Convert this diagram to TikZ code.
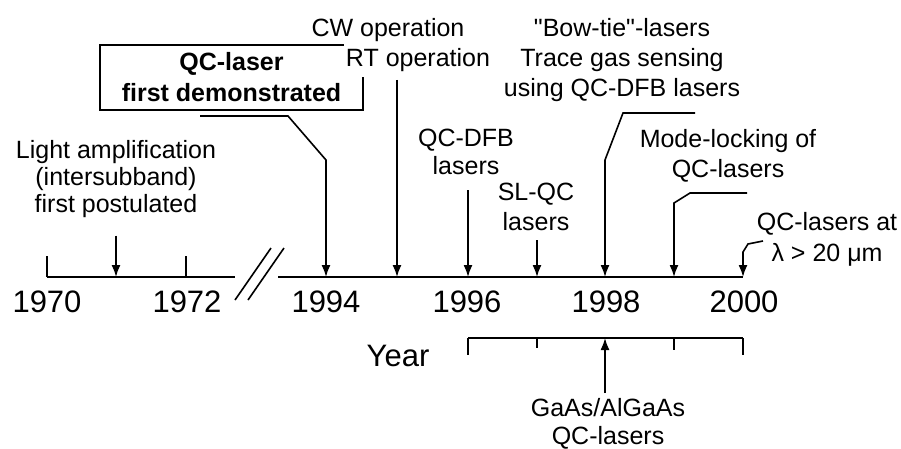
\documentclass[tikz,border=0pt]{standalone}
\usepackage{fontspec}
\setmainfont{Liberation Sans}[Ligatures=TeXOff]
\usetikzlibrary{arrows.meta}
\begin{document}
\begin{tikzpicture}[x=1pt,y=-1pt,
  lab/.style={font=\fontsize{25}{30}\selectfont, align=center, inner sep=0pt},
  yr/.style={font=\fontsize{31}{36}\selectfont, inner sep=0pt, anchor=base},
  axis/.style={line width=2pt},
  arr/.style={line width=1.6pt, -{Latex[length=12pt,width=9pt]}},
  lead/.style={line width=1.6pt}]
\useasboundingbox[fill=white] (0,0) rectangle (901,448);

% main axis points
\coordinate (a1970) at (47,277);
\coordinate (a1971) at (116,277);
\coordinate (a1972) at (186,277);
\coordinate (aL) at (235,277);
\coordinate (aR) at (278,277);
\coordinate (a1994) at (326,277);
\coordinate (a1995) at (397,277);
\coordinate (a1996) at (468,277);
\coordinate (a1997) at (537,277);
\coordinate (a1998) at (605,277);
\coordinate (a1999) at (674,277);
\coordinate (a2000) at (743,277);

\draw[axis] (a1970) -- (aL);
\draw[axis] (aR) -- (a2000);
\draw[axis] (a1970) -- ++(0,-21);
\draw[axis] (a1972) -- ++(0,-21);

% break marks
\coordinate (k1a) at (235,300); \coordinate (k1b) at (271,248);
\coordinate (k2a) at (248,300); \coordinate (k2b) at (284,248);
\draw[lead] (k1a) -- (k1b);
\draw[lead] (k2a) -- (k2b);

% year numbers
\node[yr] (n1970) at (47,312) {1970};
\node[yr] (n1972) at (187,312) {1972};
\node[yr] (n1994) at (326,312) {1994};
\node[yr] (n1996) at (467,312) {1996};
\node[yr] (n1998) at (606,312) {1998};
\node[yr] (n2000) at (744,312) {2000};
\node[yr] (year) at (398,366.7) {Year};

% second axis
\coordinate (b1996) at (468,338);
\coordinate (b1997) at (537,338);
\coordinate (b1998) at (605,338);
\coordinate (b1999) at (674,338);
\coordinate (b2000) at (743,338);
\draw[axis] (b1996) -- (b2000);
\draw[axis] (b1996) -- ++(0,17);
\draw[axis] (b1997) -- ++(0,10);
\draw[axis] (b1999) -- ++(0,12);
\draw[axis] (b2000) -- ++(0,17);

% labels
\node[lab, font=\fontsize{25}{27}\selectfont, anchor=north] (light) at (116,140)
  {Light amplification\\(intersubband)\\first postulated};
\draw[arr, shorten <=18pt] (light.south -| a1971) -- (a1971);

\node[draw, line width=1.6pt, minimum width=263pt, minimum height=65pt, inner sep=0pt,
  font=\bfseries\fontsize{25}{31}\selectfont, align=center] (box) at (231.5,77.5)
  {QC-laser\\first demonstrated};
\coordinate (bl1) at (200,116);
\coordinate (bl2) at (288,116);
\coordinate (bl3) at (326,160);
\draw[arr] (bl1) -- (bl2) -- (bl3) -- (a1994);

\node[lab, anchor=base] (cw) at (388,36.5) {CW operation};
\node[lab, anchor=base, fill=white, inner xsep=2pt, inner ysep=5pt] (rt) at (418,66.5) {RT operation};
\draw[arr, shorten <=3pt] (rt.south -| a1995) -- (a1995);

\node[lab, anchor=north] (bow) at (622,18.5)
  {"Bow-tie"-lasers\\Trace gas sensing\\using QC-DFB lasers};
\coordinate (bw1) at (695,113);
\coordinate (bw2) at (623,113);
\coordinate (bw3) at (605,160);
\draw[arr] (bw1) -- (bw2) -- (bw3) -- (a1998);

\node[lab, font=\fontsize{25}{28}\selectfont, anchor=north] (dfb) at (466,129) {QC-DFB\\lasers};
\draw[arr, shorten <=15pt] (dfb.south -| a1996) -- (a1996);

\node[lab, anchor=north] (slqc) at (536,183) {SL-QC\\lasers};
\draw[arr, shorten <=9pt] (slqc.south -| a1997) -- (a1997);

\node[lab, anchor=north] (mode) at (728,129) {Mode-locking of\\QC-lasers};
\coordinate (ml1) at (747,193);
\coordinate (ml2) at (690,193);
\coordinate (ml3) at (674,203);
\draw[arr] (ml1) -- (ml2) -- (ml3) -- (a1999);

\node[lab, font=\fontsize{25}{31}\selectfont, anchor=north] (qc20) at (827,212)
  {QC-lasers at\\λ > 20 μm};
\coordinate (h1) at (763,241);
\coordinate (h2) at (748,244);
\coordinate (h3) at (743,252);
\draw[arr] (h1) -- (h2) -- (h3) -- (a2000);

\node[lab, font=\fontsize{25}{28}\selectfont, anchor=north] (gaas) at (608,398) {GaAs/AlGaAs\\QC-lasers};
\draw[arr, shorten <=5pt] (gaas.north -| b1998) -- (b1998);
\end{tikzpicture}
\end{document}
